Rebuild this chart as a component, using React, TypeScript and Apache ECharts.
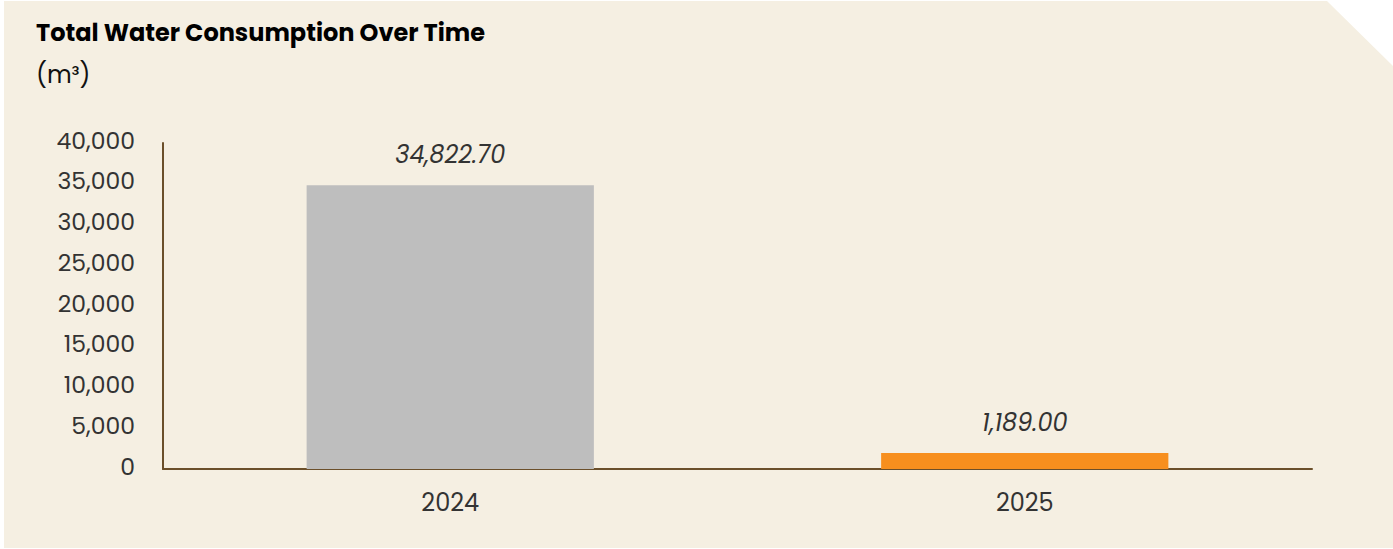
import React, { useEffect, useRef } from "react";
import * as echarts from "echarts";

const categories = ["2024", "2025"];
const values = [34822.7, 1189.0];
const barColors = ["#BEBEBE", "#F78F1E"];
const yTicks = { min: 0, max: 40000, interval: 5000 };

const FONT = "Poppins, Inter, 'Noto Sans', sans-serif";

export default function App() {
  const ref = useRef<HTMLDivElement>(null);
  useEffect(() => {
    document.body.style.margin = "0";
    const chart = echarts.init(ref.current!, null, { renderer: "svg" });
    chart.setOption({
      animation: false,
      backgroundColor: "#ffffff",
      graphic: [
        {
          type: "polygon",
          z: -10,
          silent: true,
          shape: {
            points: [
              [4, 1],
              [1327, 1],
              [1393, 66],
              [1393, 548],
              [4, 548],
            ],
          },
          style: { fill: "#F5EFE2" },
        },
        {
          type: "text",
          left: 36,
          top: 20,
          style: {
            text: "Total Water Consumption Over Time",
            font: `bold 24px ${FONT}`,
            fill: "#000000",
          },
        },
        {
          type: "text",
          left: 36,
          top: 62,
          style: {
            text: "(m³)",
            font: `24px ${FONT}`,
            fill: "#111111",
          },
        },
      ],
      grid: { left: 163, right: 81, top: 143, bottom: 80, containLabel: false },
      xAxis: {
        type: "category",
        data: categories,
        axisLine: { show: true, lineStyle: { color: "#6B4F2A", width: 2 } },
        axisTick: { show: false },
        axisLabel: { color: "#333333", fontSize: 24, fontFamily: FONT, margin: 21 },
      },
      yAxis: {
        type: "value",
        min: yTicks.min,
        max: yTicks.max,
        interval: yTicks.interval,
        splitLine: { show: false },
        axisLine: { show: true, lineStyle: { color: "#6B4F2A", width: 2 } },
        axisTick: { show: false },
        axisLabel: {
          color: "#333333",
          fontSize: 23.5,
          fontFamily: FONT,
          margin: 28,
          verticalAlign: "bottom",
          lineHeight: 6,
          formatter: (v: number) => v.toLocaleString("en-US"),
        },
      },
      series: [
        {
          type: "bar",
          barWidth: "50%",
          barMinHeight: 16,
          data: values.map((v, i) => ({ value: v, itemStyle: { color: barColors[i] } })),
          label: {
            show: true,
            position: "top",
            distance: 19,
            color: "#333333",
            fontSize: 24,
            fontStyle: "italic",
            fontFamily: FONT,
            formatter: (p: any) =>
              Number(p.value).toLocaleString("en-US", {
                minimumFractionDigits: 2,
                maximumFractionDigits: 2,
              }),
          },
        },
      ],
    });
    return () => chart.dispose();
  }, []);
  return <div ref={ref} style={{ width: 1393, height: 549 }} />;
}
